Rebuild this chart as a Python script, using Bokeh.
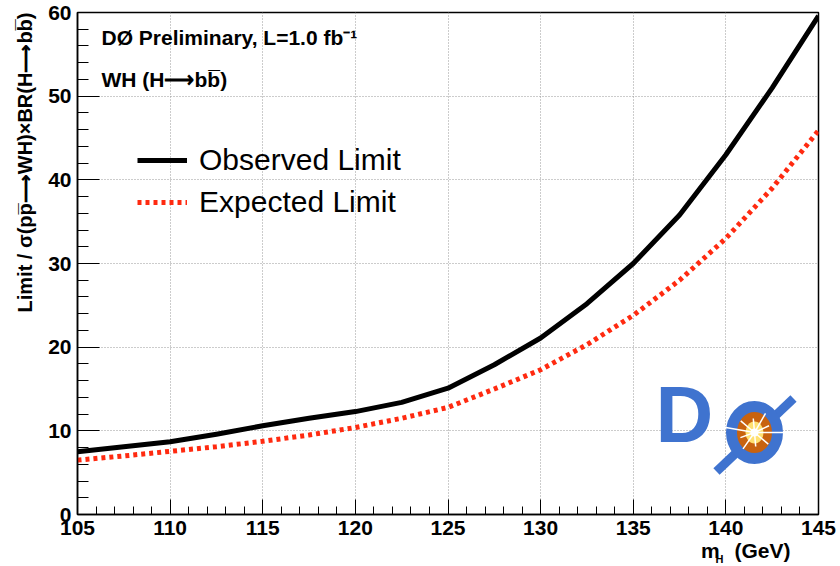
import numpy as np
from bokeh.plotting import figure
from bokeh.models import Range1d, Label, Legend, LegendItem, SingleIntervalTicker, Title
from bokeh.core.properties import value
from bokeh.embed import file_html
from bokeh.resources import INLINE

# Higgs mass points (GeV) and 95% CL limits relative to the SM prediction
mass_gev = [105, 107.5, 110, 112.5, 115, 117.5, 120, 122.5, 125,
            127.5, 130, 132.5, 135, 137.5, 140, 142.5, 145]
observed_limit = [7.5, 8.1, 8.7, 9.6, 10.6, 11.5, 12.3, 13.4, 15.1,
                  17.9, 21.1, 25.2, 30.0, 35.8, 43.0, 51.0, 59.6]
expected_limit = [6.5, 7.0, 7.55, 8.1, 8.75, 9.5, 10.4, 11.5, 12.8,
                  15.0, 17.3, 20.3, 23.8, 28.0, 33.0, 39.0, 45.9]

x_lo, x_hi = 105, 145
y_lo, y_hi = 0, 60

W, H = 840, 566
LEFT, RIGHT, TOP, BOTTOM = 77, 22, 12, 52
FONT = "Liberation Sans"

p = figure(width=W, height=H, output_backend="svg", toolbar_location=None,
           x_range=Range1d(x_lo, x_hi), y_range=Range1d(y_lo, y_hi),
           min_border_left=LEFT, min_border_right=RIGHT,
           min_border_top=TOP, min_border_bottom=BOTTOM)
p.background_fill_color = "white"
p.border_fill_color = "white"
p.outline_line_color = "black"
p.outline_line_width = 1.5

frame_w = W - LEFT - RIGHT
frame_h = H - TOP - BOTTOM


def sx(px):
    """canvas pixel column -> data x"""
    return x_lo + (px - LEFT) * (x_hi - x_lo) / frame_w


def sy(py):
    """canvas pixel row -> data y"""
    return y_lo + (TOP + frame_h - py) * (y_hi - y_lo) / frame_h


# axes: ROOT-style inward ticks, bold labels
p.xaxis.ticker = SingleIntervalTicker(interval=5, num_minor_ticks=5)
p.yaxis.ticker = SingleIntervalTicker(interval=10, num_minor_ticks=5)
for ax, maj, mnr, standoff in ((p.xaxis, 15, 8, 6), (p.yaxis, 22, 11, 6)):
    ax.major_tick_in = maj
    ax.major_tick_out = 0
    ax.minor_tick_in = mnr
    ax.minor_tick_out = 0
    ax.major_tick_line_color = "black"
    ax.minor_tick_line_color = "black"
    ax.axis_line_color = "black"
    ax.axis_line_width = 1.5
    ax.major_label_text_font = FONT
    ax.major_label_text_font_style = "bold"
    ax.major_label_text_font_size = "21px"
    ax.major_label_text_color = "black"
    ax.major_label_standoff = standoff

for g in (p.xgrid, p.ygrid):
    g.grid_line_color = "#999999"
    g.grid_line_dash = "1 2"
    g.grid_line_width = 1

# limit curves
obs = p.line(mass_gev, observed_limit, line_color="black", line_width=5,
             line_join="round")
exp = p.line(mass_gev, expected_limit, line_color="#ff2a10", line_width=5,
             line_dash="4 4")

legend = Legend(items=[LegendItem(label="Observed Limit", renderers=[obs]),
                       LegendItem(label="Expected Limit", renderers=[exp])],
                location=(60, 295), glyph_width=50, glyph_height=20,
                label_standoff=12, label_text_font=FONT,
                label_text_font_size="30px", label_text_color="black",
                spacing=8, padding=0, margin=0, border_line_color=None,
                background_fill_alpha=0)
p.add_layout(legend)

# header text
p.add_layout(Label(x=sx(101), y=sy(48), text="DØ Preliminary, L=1.0 fb⁻¹",
                   text_font=FONT, text_font_style="bold",
                   text_font_size="21px", text_color="black"))
p.add_layout(Label(x=sx(101), y=sy(90), text="WH (H⟶bb\u0305)",
                   text_font=FONT, text_font_style="bold",
                   text_font_size="21px", text_color="black"))

# axis titles (ROOT style: flush with the top / right end of the axis)
p.add_layout(Title(text="Limit / σ(pp\u0305⟶WH)×BR(H⟶bb\u0305)", align="right",
                   text_font=FONT, text_font_style="bold",
                   text_font_size="20px", text_color="black", standoff=20),
             "left")
p.add_layout(Title(text="m\u2002\u2009(GeV)", align="right", offset=28,
                   vertical_align="top", text_font=FONT,
                   text_font_style="bold", text_font_size="21px",
                   text_color="black", standoff=2), "below")
# subscript of m_H, tucked up against the row above
p.add_layout(Title(text="H", align="right", offset=95,
                   vertical_align="top", text_font=FONT,
                   text_font_style="bold", text_font_size="11px",
                   text_color="black", standoff=-24), "below")

# experiment logo in the lower right corner
blue = "#3f73cf"
cx, cy = sx(754), sy(432)
p.segment(x0=[sx(716)], y0=[sy(471)], x1=[sx(793)], y1=[sy(398)],
          line_color=blue, line_width=9)
p.ellipse(x=[cx], y=[cy], width=[46], height=[52],
          width_units="screen", height_units="screen",
          fill_color="#c8620f", line_color=blue, line_width=11)
p.ellipse(x=[cx], y=[cy], width=[18], height=[22],
          width_units="screen", height_units="screen",
          fill_color="#ffe070", line_color=None)
ray_angles = np.deg2rad([0, 25, 60, 95, 140, 170, 200, 235, 275, 320])
ray_lengths = [34, 16, 22, 14, 18, 32, 15, 20, 14, 18]
p.ray(x=[cx] * len(ray_angles), y=[cy] * len(ray_angles),
      angle=ray_angles, length=ray_lengths, length_units="screen",
      line_color="white", line_width=1.5)
p.ellipse(x=[cx], y=[cy], width=[8], height=[8],
          width_units="screen", height_units="screen",
          fill_color="white", line_color=None)
p.text(x=[sx(655)], y=[sy(458)], text=["D"], text_font_style="bold",
       text_color=blue, text_font_size="80px", text_font=value(FONT))

open("out.html", "w").write(file_html(p, INLINE))
